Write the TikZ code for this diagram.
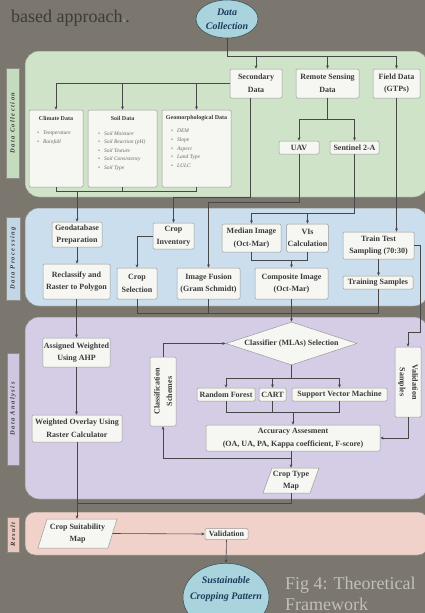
\documentclass[tikz,border=0pt]{standalone}
\usepackage{fontspec}
\setmainfont{Liberation Serif}
\usetikzlibrary{arrows.meta,shapes.geometric,calc}
\definecolor{bgc}{HTML}{7B776F}
\definecolor{grnp}{HTML}{CFE3C8}
\definecolor{grnl}{HTML}{C4DBBD}
\definecolor{blup}{HTML}{CADEED}
\definecolor{blul}{HTML}{C2D6E6}
\definecolor{purp}{HTML}{D5CDE6}
\definecolor{purl}{HTML}{CFC6E0}
\definecolor{pnkp}{HTML}{F1D2CB}
\definecolor{pnkl}{HTML}{EAC7BF}
\definecolor{panb}{HTML}{8F8E86}
\definecolor{boxf}{HTML}{F6F6F3}
\definecolor{boxd}{HTML}{9A9A98}
\definecolor{txtc}{HTML}{3A3A3A}
\definecolor{itmc}{HTML}{6A6A6A}
\definecolor{linec}{HTML}{474747}
\definecolor{ellf}{HTML}{A9D3DD}
\definecolor{elld}{HTML}{3D5560}
\definecolor{ellt}{HTML}{1D3C5E}
\definecolor{toptxt}{HTML}{3C3B38}
\definecolor{figtxt}{HTML}{C2BFB9}
\definecolor{sgreen}{HTML}{8CC084}
\begin{document}
\begin{tikzpicture}[x=1pt,y=-1pt,
  bx/.style={draw=boxd, fill=boxf, rounded corners=1.2pt, line width=0.5pt, align=center, inner sep=1pt, text=txtc, font=\fontsize{8}{12.5}\selectfont\bfseries},
  ttl/.style={text=txtc, font=\fontsize{6}{7}\selectfont\bfseries, inner sep=0pt},
  itm/.style={text=itmc, font=\fontsize{5.5}{8.6}\selectfont\itshape, align=left, inner sep=0pt, anchor=north west},
  lab/.style={draw=panb, line width=0.4pt, rotate=90, inner sep=0pt, text=txtc, font=\fontsize{6.5}{7}\selectfont\bfseries\itshape\addfontfeature{LetterSpace=22}},
  ell/.style={ellipse, draw=elld, fill=ellf, line width=0.6pt, inner sep=0pt, align=center, text=ellt, font=\fontsize{10}{14}\selectfont\bfseries\itshape},
  conn/.style={draw=linec, line width=0.6pt},
  arr/.style={conn, -{Stealth[length=3.4pt,width=2.8pt]}},
  pan/.style={draw=panb, line width=0.5pt, rounded corners=14pt}
]
\useasboundingbox (0,0) rectangle (425,613);
\fill[bgc] (0,0) rectangle (425,613);

% panels
\path[pan, fill=grnp] (25,51) rectangle (428,197);
\path[pan, fill=blup] (25,208) rectangle (428,306);
\path[pan, fill=purp] (25,317) rectangle (428,499);
\path[pan, fill=pnkp, rounded corners=10pt] (25,512) rectangle (428,555);

% side labels
\node[lab, fill=grnl, minimum width=110pt, minimum height=13pt] (ldc) at (12.5,123) {Data Collection};
\node[lab, fill=blul, minimum width=83pt, minimum height=14pt] (ldp) at (13,258.5) {Data Processing};
\node[lab, fill=purl, minimum width=112pt, minimum height=12pt] (lda) at (13,409) {Data Analysis};
\node[lab, fill=pnkl, minimum width=35pt, minimum height=12pt] (lres) at (13,534.5) {Result};

% header texts
\node[anchor=base west, inner sep=0pt, text=toptxt, font=\fontsize{18}{20}\selectfont] (hdr) at (11,22) {based approach\textcolor{sgreen}{\fontsize{7}{7}\selectfont s}.};
\node[anchor=base west, inner sep=0pt, text=figtxt, font=\fontsize{18}{20}\selectfont] (fig1) at (285,589) {Fig 4: Theoretical};
\node[anchor=base west, inner sep=0pt, text=figtxt, font=\fontsize{18}{20}\selectfont] (fig2) at (285,610) {Framework};

% ellipses
\node[ell, minimum width=62pt, minimum height=38pt] (dc) at (227,19) {Data\\Collection};
\node[ell, minimum width=86pt, minimum height=68pt, anchor=north] (sus) at (226,563) {};
\node[text=ellt, font=\fontsize{10}{16}\selectfont\bfseries\itshape, align=center, inner sep=0pt] (sust) at (226,589) {Sustainable\\Cropping Pattern};

% data collection
\node[bx, minimum width=52pt, minimum height=29pt] (sec) at (256,83.5) {Secondary\\Data};
\node[bx, minimum width=63pt, minimum height=29pt] (rsd) at (327.5,83.5) {Remote Sensing\\Data};
\node[bx, minimum width=47pt, minimum height=29pt] (fd) at (396.5,83.5) {Field Data\\(GTPs)};
\node[bx, minimum width=54pt, minimum height=77pt] (clim) at (56,148.5) {};
\node[bx, minimum width=69pt, minimum height=77pt] (soil) at (122.5,148.5) {};
\node[bx, minimum width=69pt, minimum height=77pt] (geo) at (196.5,148.5) {};
\node[ttl] (climT) at (56,118) {Climate Data};
\node[ttl] (soilT) at (122.5,118) {Soil Data};
\node[ttl] (geoT) at (196.5,118) {Geomorphological Data};
\node[itm] (climI) at (37,131) {•\hspace{4pt}Temperature\\•\hspace{4pt}Rainfall};
\node[itm] (soilI) at (98,131) {•\hspace{4pt}Soil Moisture\\•\hspace{4pt}Soil Reaction (pH)\\•\hspace{4pt}Soil Texture\\•\hspace{4pt}Soil Consistency\\•\hspace{4pt}Soil Type};
\node[itm] (geoI) at (171,129) {•\hspace{4pt}DEM\\•\hspace{4pt}Slope\\•\hspace{4pt}Aspect\\•\hspace{4pt}Land Type\\•\hspace{4pt}LULC};
\node[bx, minimum width=40pt, minimum height=13pt] (uav) at (299,147.5) {UAV};
\node[bx, minimum width=49pt, minimum height=13pt] (sen) at (354.5,147.5) {Sentinel 2-A};

% data processing
\node[bx, minimum width=50pt, minimum height=25pt] (gdb) at (77,234.5) {Geodatabase\\Preparation};
\node[bx, minimum width=67pt, minimum height=35pt] (rcl) at (76.5,281.5) {Reclassify and\\Raster to Polygon};
\node[bx, minimum width=41pt, minimum height=26pt] (cinv) at (173.5,236) {Crop\\Inventory};
\node[bx, minimum width=40pt, minimum height=31pt] (csel) at (137,283.5) {Crop\\Selection};
\node[bx, minimum width=63pt, minimum height=31pt] (fus) at (208.5,283.5) {Image Fusion\\(Gram Schmidt)};
\node[bx, minimum width=59pt, minimum height=28pt] (med) at (251.5,238) {Median Image\\(Oct-Mar)};
\node[bx, minimum width=41pt, minimum height=28pt] (vis) at (307.5,238) {VIs\\Calculation};
\node[bx, minimum width=73pt, minimum height=31pt] (comp) at (291.5,283.5) {Composite Image\\(Oct-Mar)};
\node[bx, minimum width=71pt, minimum height=27pt] (tts) at (378.5,245.5) {Train Test\\Sampling (70:30)};
\node[bx, minimum width=70pt, minimum height=13pt] (trs) at (378,282.5) {Training Samples};

% data analysis
\node[bx, minimum width=67pt, minimum height=29pt] (ahp) at (76.5,352.5) {Assigned Weighted\\Using AHP};
\node[bx, minimum width=90pt, minimum height=27pt] (wov) at (77,428.5) {Weighted Overlay Using\\Raster Calculator};
\node[bx, rotate=90, minimum width=69pt, minimum height=26pt] (csch) at (163,391.5) {Classification\\Schemes};
\node[bx, rotate=-90, minimum width=70pt, minimum height=26pt] (vsam) at (408,382) {Validation\\Samples};
\node[bx, diamond, aspect=3, rounded corners=0pt, inner sep=0pt, minimum width=131pt, minimum height=43pt] (dia) at (291.5,343.5) {Classifier (MLAs) Selection};
\node[bx, minimum width=58pt, minimum height=13pt] (rf) at (226,394.5) {Random Forest};
\node[bx, minimum width=27pt, minimum height=13pt] (cart) at (272.5,394.5) {CART};
\node[bx, minimum width=95pt, minimum height=13pt] (svm) at (339.5,394.5) {Support Vector Machine};
\node[bx, minimum width=174pt, minimum height=26pt] (acc) at (293,438) {Accuracy Assesment\\(OA, UA, PA, Kappa coefficient, F-score)};
\draw[draw=boxd, fill=boxf, line width=0.5pt] (263,493) -- (310,493) -- (319,468) -- (272,468) -- cycle;
\node[text=txtc, font=\fontsize{8}{12.5}\selectfont\bfseries, align=center, inner sep=0pt, minimum width=47pt, minimum height=25pt] (ctm) at (291,480.5) {Crop Type\\Map};

% result
\draw[draw=boxd, fill=boxf, line width=0.5pt] (38,548) -- (108,548) -- (117,519) -- (47,519) -- cycle;
\node[text=txtc, font=\fontsize{8}{12.5}\selectfont\bfseries, align=center, inner sep=0pt, minimum width=70pt, minimum height=29pt] (csm) at (77.5,533.5) {Crop Suitability\\Map};
\node[bx, minimum width=43pt, minimum height=11pt] (val) at (226.5,534) {Validation};

% ---- connectors: data collection
\draw[conn] (dc.south) -- (dc.south |- 0,56) -- (fd.north |- 0,56);
\draw[arr] (sec.north |- 0,56) -- (sec.north);
\draw[arr] (rsd.north |- 0,56) -- (rsd.north);
\draw[arr] (fd.north |- 0,56) -- (fd.north);
\draw[arr] (sec.west) -| (clim.north);
\draw[arr] (soil.north |- sec.west) -- (soil.north);
\draw[arr] (geo.north |- sec.west) -- (geo.north);
\draw[conn] (clim.south) -- (clim.south |- 0,191) -- (geo.south |- 0,191) -- (geo.south);
\draw[conn] (soil.south) -- (soil.south |- 0,191);
\draw[arr] (gdb.north |- 0,191) -- (gdb.north);
\draw[conn] (rsd.south) -- (rsd.south |- 0,119);
\draw[arr] (uav.north |- 0,119) -- (uav.north);
\draw[arr] (uav.north |- 0,119) -- (sen.north |- 0,119) -- (sen.north);

% ---- data processing
\draw[arr] ([xshift=-6pt]sec.south) -- ([xshift=-6pt]sec.south |- 0,197) -| (cinv.north);
\draw[arr] (uav.south) -- (uav.south |- 0,202) -| (fus.north);
\draw[conn] (sen.south) -- (sen.south |- 0,213);
\draw[arr] (sen.south |- 0,213) -| (med.north);
\draw[arr] (vis.north |- 0,213) -- (vis.north);
\draw[arr] (fd.south) -- (fd.south |- tts.north);
\draw[arr] (gdb.south) -- (gdb.south |- rcl.north);
\draw[arr] (cinv.west) -| (csel.north);
\draw[conn] (med.south) -- (med.south |- 0,260) -- (vis.south |- 0,260) -- (vis.south);
\draw[arr] (comp.north |- 0,260) -- (comp.north);
\draw[arr] (tts.south) -- (tts.south |- trs.north);
\draw[arr] (tts.east) -- ([xshift=6pt]tts.east) |- ([yshift=14pt]vsam.west) -- (vsam.west);
\draw[conn] (csel.south) -- (csel.south |- 0,313) -- (trs.south |- 0,313) -- (trs.south);
\draw[conn] (fus.south) -- (fus.south |- 0,313);
\draw[arr] (comp.south) -- (dia.north);

% ---- data analysis
\draw[arr] (rcl.south) -- (rcl.south |- ahp.north);
\draw[arr] (ahp.south) -- (ahp.south |- wov.north);
\draw[arr] (wov.south) -- (wov.south |- csm.north);
\draw[conn] (dia.south) -- (dia.south |- 0,378);
\draw[conn] (rf.north |- 0,378) -- (svm.north |- 0,378);
\draw[arr] (rf.north |- 0,378) -- (rf.north);
\draw[arr] (cart.north |- 0,378) -- (cart.north);
\draw[arr] (svm.north |- 0,378) -- (svm.north);
\draw[conn] (rf.south) -- (rf.south |- 0,412) -- (svm.south |- 0,412) -- (svm.south);
\draw[conn] (cart.south) -- (cart.south |- 0,412);
\draw[arr] (acc.north |- 0,412) -- (acc.north);
\draw[arr] (ctm.north |- acc.south) -- (ctm.north);
\draw[arr] (ctm.north |- 0,458) -| (csch.west);
\draw[arr] (csch.east) |- (dia.west);
\draw[arr] (vsam.east) |- (acc.east);
\draw[conn] (ctm.south) -- (ctm.south |- 0,503) -- (csm.north |- 0,503);

% ---- result
\draw[arr] (csm.east) -- (val.west);
\draw[arr] (val.south) -- (sus.north);
\end{tikzpicture}
\end{document}
